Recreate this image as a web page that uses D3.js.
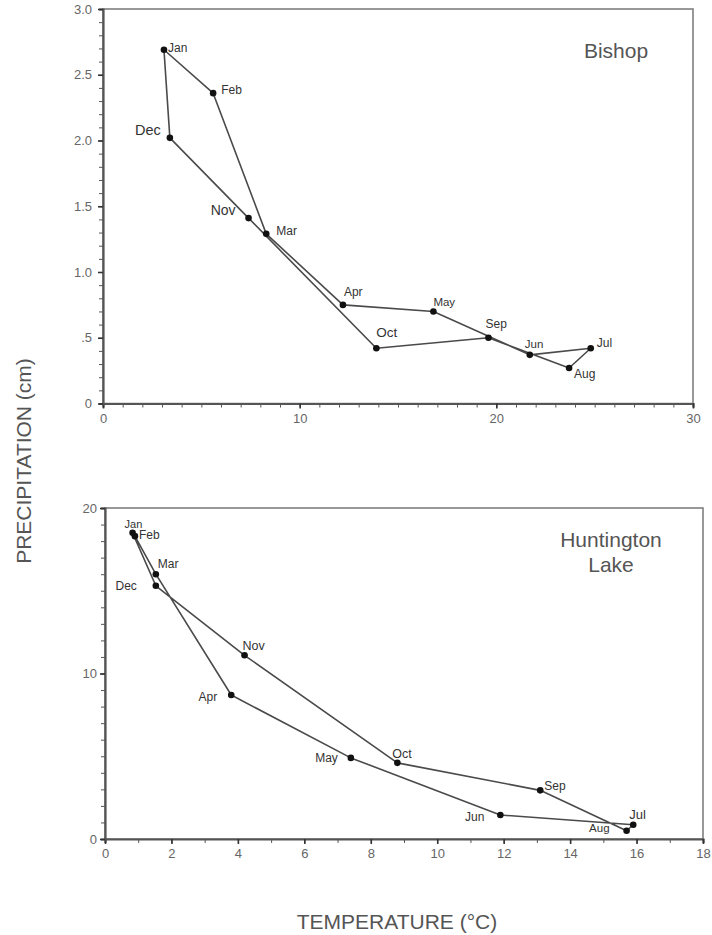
<!DOCTYPE html>
<html>
<head>
<meta charset="utf-8">
<script src="https://cdn.jsdelivr.net/npm/d3@7"></script>
<style>
  body { margin: 0; background: #fff; }
  svg { display: block; }
</style>
</head>
<body>
<div id="chart"></div>
<script>
// month order follows the drawn loop: Jan .. Dec and back to Jan
var months = ["Jan","Feb","Mar","Apr","May","Jun","Jul","Aug","Sep","Oct","Nov","Dec"];

// Bishop: mean temperature (°C) and precipitation (cm)
var bishopTemp   = [3.1, 5.6, 8.3, 12.2, 16.8, 21.7, 24.8, 23.7, 19.6, 13.9, 7.4, 3.4];
var bishopPrecip = [2.69, 2.36, 1.29, 0.75, 0.70, 0.37, 0.42, 0.27, 0.50, 0.42, 1.41, 2.02];

// Huntington Lake
var huntTemp   = [0.83, 0.90, 1.53, 3.8, 7.4, 11.9, 15.9, 15.7, 13.1, 8.8, 4.2, 1.53];
var huntPrecip = [18.5, 18.3, 16.0, 8.7, 4.9, 1.45, 0.86, 0.5, 2.94, 4.6, 11.1, 15.3];

var bishopYTicks = [0, 0.5, 1.0, 1.5, 2.0, 2.5, 3.0];
var bishopYLabels = ["0", ".5", "1.0", "1.5", "2.0", "2.5", "3.0"];
var bishopXTicks = [0, 10, 20, 30];
var huntYTicks = [0, 10, 20];
var huntXTicks = [0, 2, 4, 6, 8, 10, 12, 14, 16, 18];

// label placement per month (dx, dy, anchor, font size)
var bishopLabelPos = {
  Jan: [4, 2, "start", 12], Feb: [8, 1, "start", 12], Mar: [10, 1, "start", 12],
  Apr: [1, -9, "start", 12], May: [0, -5, "start", 11.5], Jun: [-5, -7, "start", 11.5],
  Jul: [6, -1, "start", 12], Aug: [5, 10, "start", 12], Sep: [-3, -10, "start", 12],
  Oct: [0, -11, "start", 13.5], Nov: [-13, -3, "end", 14], Dec: [-9, -3, "end", 14.5]
};
var huntLabelPos = {
  Jan: [-8, -5, "start", 11], Feb: [4, 3, "start", 12], Mar: [2, -6, "start", 12],
  Apr: [-14, 6, "end", 12], May: [-13, 4, "end", 12], Jun: [-16, 6, "end", 12],
  Jul: [-4, -6, "start", 13], Aug: [-17, 1, "end", 11.5], Sep: [4, 0, "start", 12],
  Oct: [-5, -5, "start", 12.5], Nov: [-2, -5, "start", 12.5], Dec: [-19, 4, "end", 12]
};

var width = 712, height = 935;
var svg = d3.select("#chart").append("svg")
  .attr("width", width)
  .attr("height", height)
  .style("font-family", "'Liberation Sans', Arial, sans-serif");

function drawPanel(opt) {
  var x = d3.scaleLinear().domain(opt.xDomain).range([opt.left, opt.right]);
  var y = d3.scaleLinear().domain(opt.yDomain).range([opt.bottom, opt.top]);
  var g = svg.append("g");

  // frame (top/right thin)
  g.append("rect")
    .attr("x", opt.left).attr("y", opt.top)
    .attr("width", opt.right - opt.left).attr("height", opt.bottom - opt.top)
    .attr("fill", "none").attr("stroke", "#777").attr("stroke-width", 1.5);

  // x axis
  var xAxis = d3.axisBottom(x).tickValues(opt.xMinor).tickSize(4).tickFormat("");
  g.append("g").attr("transform", "translate(0," + opt.bottom + ")").call(xAxis)
    .call(function(s) {
      s.select(".domain").attr("stroke", "#555").attr("stroke-width", 2.2);
      s.selectAll(".tick line").attr("stroke", "#555").attr("stroke-width", 1);
    });
  g.append("g").attr("transform", "translate(0," + opt.bottom + ")")
    .call(d3.axisBottom(x).tickValues(opt.xTicks).tickSize(5).tickPadding(5))
    .call(function(s) {
      s.select(".domain").remove();
      s.selectAll(".tick line").attr("stroke", "#333").attr("stroke-width", 1.6);
      s.selectAll(".tick text").attr("fill", "#666").attr("font-size", 13);
    });

  // y axis
  var yAxis = d3.axisLeft(y).tickValues(opt.yMinor).tickSize(4).tickFormat("");
  g.append("g").attr("transform", "translate(" + opt.left + ",0)").call(yAxis)
    .call(function(s) {
      s.select(".domain").attr("stroke", "#555").attr("stroke-width", 2.2);
      s.selectAll(".tick line").attr("stroke", "#555").attr("stroke-width", 1);
    });
  g.append("g").attr("transform", "translate(" + opt.left + ",0)")
    .call(d3.axisLeft(y).tickValues(opt.yTicks).tickSize(5).tickPadding(opt.yPad)
      .tickFormat(function(d, i) { return opt.yLabels ? opt.yLabels[i] : d; }))
    .call(function(s) {
      s.select(".domain").remove();
      s.selectAll(".tick line").attr("stroke", "#333").attr("stroke-width", 1.6);
      s.selectAll(".tick text").attr("fill", "#666").attr("font-size", 13);
    });

  var pts = months.map(function(m, i) {
    return { month: m, t: opt.temp[i], p: opt.precip[i] };
  });

  var line = d3.line()
    .x(function(d) { return x(d.t); })
    .y(function(d) { return y(d.p); });

  g.append("path")
    .datum(pts.concat([pts[0]]))
    .attr("d", line)
    .attr("fill", "none")
    .attr("stroke", "#4a4a4a")
    .attr("stroke-width", 1.6)
    .attr("stroke-linejoin", "round");

  g.selectAll(".pt").data(pts).enter()
    .append("circle")
    .attr("cx", function(d) { return x(d.t); })
    .attr("cy", function(d) { return y(d.p); })
    .attr("r", 3.3)
    .attr("fill", "#111");

  g.selectAll(".lbl").data(pts).enter()
    .append("text")
    .attr("x", function(d) { return x(d.t) + opt.labelPos[d.month][0]; })
    .attr("y", function(d) { return y(d.p) + opt.labelPos[d.month][1]; })
    .attr("text-anchor", function(d) { return opt.labelPos[d.month][2]; })
    .attr("font-size", function(d) { return opt.labelPos[d.month][3]; })
    .attr("fill", "#333")
    .text(function(d) { return d.month; });

  var title = g.append("text")
    .attr("x", opt.titleX).attr("y", opt.titleY)
    .attr("text-anchor", "middle")
    .attr("font-size", 21)
    .attr("fill", "#555");
  opt.title.forEach(function(t, i) {
    title.append("tspan").attr("x", opt.titleX).attr("dy", i === 0 ? 0 : 25).text(t);
  });
}

drawPanel({
  left: 103, right: 693, top: 9, bottom: 403.5,
  xDomain: [0, 30], yDomain: [0, 3],
  xTicks: bishopXTicks, xMinor: d3.range(0, 31, 1),
  yTicks: bishopYTicks, yLabels: bishopYLabels, yPad: 6,
  yMinor: d3.range(0, 31, 1).map(function(v) { return v / 10; }),
  temp: bishopTemp, precip: bishopPrecip,
  labelPos: bishopLabelPos,
  title: ["Bishop"], titleX: 616, titleY: 58
});

drawPanel({
  left: 105, right: 703, top: 508, bottom: 839,
  xDomain: [0, 18], yDomain: [0, 20],
  xTicks: huntXTicks, xMinor: d3.range(0, 19, 1),
  yTicks: huntYTicks, yPad: 3, yMinor: d3.range(0, 21, 1),
  temp: huntTemp, precip: huntPrecip,
  labelPos: huntLabelPos,
  title: ["Huntington", "Lake"], titleX: 611, titleY: 547
});

// shared axis titles
svg.append("text")
  .attr("transform", "translate(31,461) rotate(-90)")
  .attr("text-anchor", "middle")
  .attr("font-size", 21)
  .attr("fill", "#555")
  .text("PRECIPITATION (cm)");

svg.append("text")
  .attr("x", 397).attr("y", 929)
  .attr("text-anchor", "middle")
  .attr("font-size", 21)
  .attr("fill", "#555")
  .text("TEMPERATURE (°C)");
</script>
</body>
</html>
